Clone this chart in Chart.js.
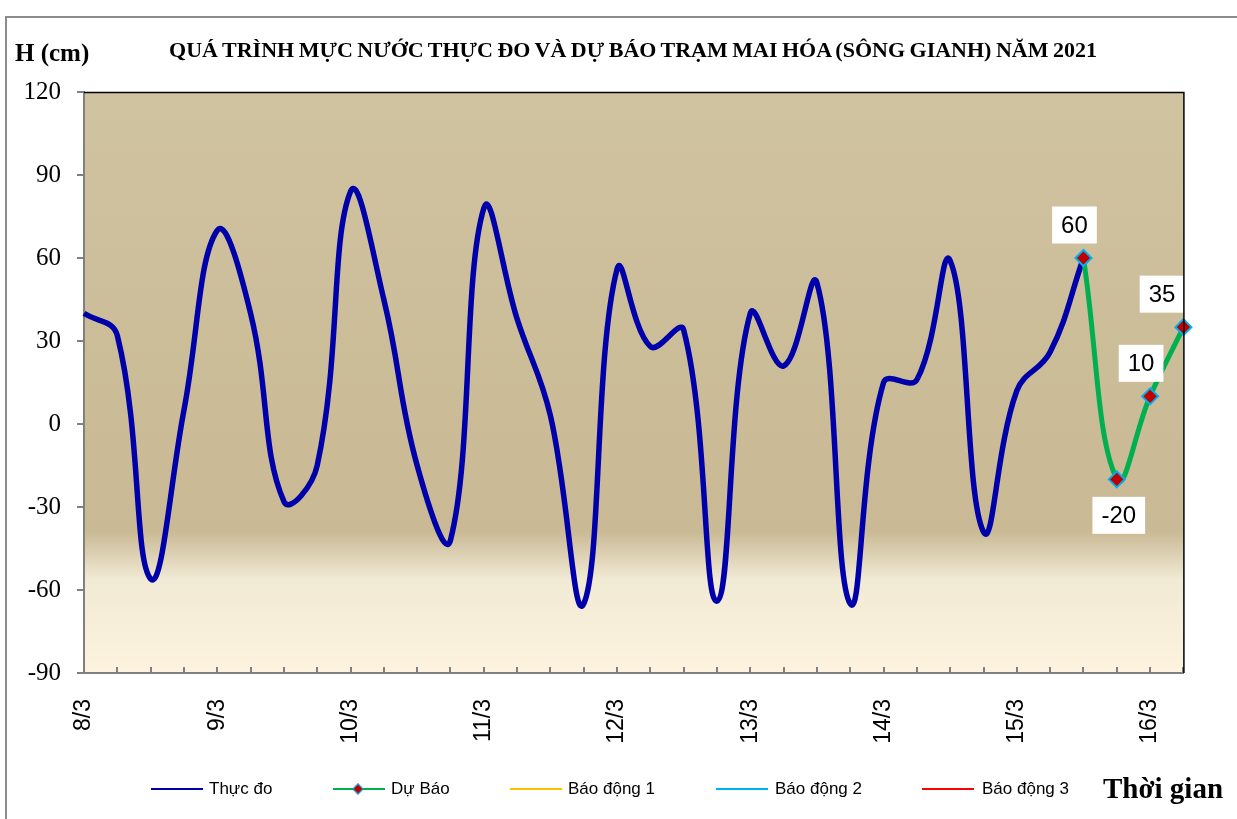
<!DOCTYPE html>
<html><head><meta charset="utf-8">
<script src="https://cdn.jsdelivr.net/npm/chart.js@4.4.1/dist/chart.umd.min.js"></script>
<style>
html,body{margin:0;padding:0;background:#fff;}
#wrap{position:relative;width:1237px;height:819px;overflow:hidden;background:#fff;}
#c{position:absolute;left:0;top:0;}
.frame{position:absolute;left:5px;top:16px;width:1300px;height:900px;border-left:2px solid #8c8c8c;border-top:2px solid #8c8c8c;}
.t{position:absolute;white-space:nowrap;font-family:'Liberation Serif','Times New Roman',serif;font-weight:bold;color:#000;line-height:1;}
#title{left:0;width:1266px;text-align:center;top:39px;font-size:22px;word-spacing:-1px;}
#hcm{left:15px;top:40px;font-size:25px;}
#tg{left:1103px;top:774px;font-size:29px;}
.lg{position:absolute;top:789px;height:0;}
.lg .ln{position:absolute;top:-1px;width:52px;height:2px;}
.lg .tx{position:absolute;top:-10px;font-family:'Liberation Sans',Arial,sans-serif;font-size:17px;line-height:20px;color:#000;white-space:nowrap;}
.lg .dm{position:absolute;top:-4px;width:6px;height:6px;background:#C00000;border:1.5px solid #00B0F0;transform:rotate(45deg);}
</style></head>
<body>
<div id="wrap">
<div class="frame"></div>
<canvas id="c" width="1237" height="819"></canvas>
<div class="t" id="title">QUÁ TRÌNH MỰC NƯỚC THỰC ĐO VÀ DỰ BÁO TRẠM MAI HÓA (SÔNG GIANH) NĂM 2021</div>
<div class="t" id="hcm">H (cm)</div>
<div class="t" id="tg">Thời gian</div>
<div class="lg" style="left:151px"><div class="ln" style="left:0;background:#0000AA"></div><div class="tx" style="left:58px">Thực đo</div></div>
<div class="lg" style="left:333px"><div class="ln" style="left:0;background:#00B050"></div><div class="dm" style="left:21px"></div><div class="tx" style="left:58px">Dự Báo</div></div>
<div class="lg" style="left:510px"><div class="ln" style="left:0;background:#FFC000"></div><div class="tx" style="left:58px">Báo động 1</div></div>
<div class="lg" style="left:716px"><div class="ln" style="left:0;background:#00B0F0"></div><div class="tx" style="left:59px">Báo động 2</div></div>
<div class="lg" style="left:922px"><div class="ln" style="left:0;background:#FF0000"></div><div class="tx" style="left:60px">Báo động 3</div></div>
</div>
<script>
// ---- data ----
const categories = [
 '8/3 00h','8/3 06h','8/3 12h','8/3 18h',
 '9/3 00h','9/3 06h','9/3 12h','9/3 18h',
 '10/3 00h','10/3 06h','10/3 12h','10/3 18h',
 '11/3 00h','11/3 06h','11/3 12h','11/3 18h',
 '12/3 00h','12/3 06h','12/3 12h','12/3 18h',
 '13/3 00h','13/3 06h','13/3 12h','13/3 18h',
 '14/3 00h','14/3 06h','14/3 12h','14/3 18h',
 '15/3 00h','15/3 06h','15/3 12h','15/3 18h',
 '16/3 00h','16/3 06h'
];
const dayLabels = ['8/3','9/3','10/3','11/3','12/3','13/3','14/3','15/3','16/3'];
const thucDo = [
 40, 32, -56, 5,
 70, 40, -28, -15,
 84, 45, -15, -42,
 78, 38, 3, -65,
 56, 28, 34, -64,
 40, 21, 51, -65,
 15, 16, 59, -39,
 12, 26, 60, null,
 null, null
];
const duBao = [
 null,null,null,null, null,null,null,null, null,null,null,null,
 null,null,null,null, null,null,null,null, null,null,null,null,
 null,null,null,null, null,null,60,-20, 10,35
];
const baoDong1 = [];
const baoDong2 = [];
const baoDong3 = [];
const yTicks = {min:-90, max:120, step:30};

// ---- plugins ----
const plotDeco = {
  id:'plotDeco',
  beforeDraw(chart){
    const {ctx, chartArea:a} = chart;
    const g = ctx.createLinearGradient(0,a.top,0,a.bottom);
    g.addColorStop(0,'#D0C3A0');
    g.addColorStop(0.755,'#C9B994');
    g.addColorStop(0.84,'#F1EAD5');
    g.addColorStop(1,'#FDF3DF');
    ctx.save(); ctx.fillStyle=g; ctx.fillRect(a.left,a.top,a.right-a.left,a.bottom-a.top); ctx.restore();
  },
  afterDraw(chart){
    const {ctx, chartArea:a} = chart;
    const xs = chart.scales.x;
    ctx.save();
    ctx.strokeStyle='#808080'; ctx.lineWidth=2;
    for(let i=1;i<xs.ticks.length;i++){
      const x=Math.round(xs.getPixelForTick(i));
      ctx.beginPath(); ctx.moveTo(x,a.bottom); ctx.lineTo(x,a.bottom-6); ctx.stroke();
    }
    ctx.strokeStyle='#000'; ctx.lineWidth=1.5;
    ctx.beginPath(); ctx.moveTo(a.left,a.top+0.5); ctx.lineTo(a.right+0.5,a.top+0.5); ctx.lineTo(a.right+0.5,a.bottom); ctx.stroke();
    ctx.restore();
  }
};
const valueLabels = {
  id:'valueLabels',
  afterDatasetsDraw(chart){
    const {ctx, chartArea:a} = chart;
    const meta = chart.getDatasetMeta(1);
    const data = chart.data.datasets[1].data;
    ctx.save();
    ctx.font = '24px "Liberation Sans", Arial, sans-serif';
    ctx.textAlign='center'; ctx.textBaseline='middle';
    meta.data.forEach((pt,i)=>{
      const v = data[i]; if(v==null) return;
      const prev = data[i-1], next = data[i+1];
      const below = prev!=null && next!=null && v<prev && v<next;
      const txt = String(v);
      const w = ctx.measureText(txt).width + 18, h = 37;
      let cx = pt.x + (below ? 2 : -9);
      let cy = pt.y + (below ? 36 : -33);
      if (cx + w/2 > a.right+1) cx = a.right + 1 - w/2;
      ctx.fillStyle='#fff'; ctx.fillRect(cx-w/2, cy-h/2, w, h);
      ctx.fillStyle='#000'; ctx.fillText(txt, cx, cy+1);
    });
    ctx.restore();
  }
};

new Chart(document.getElementById('c'), {
  type:'line',
  data:{
    labels:categories,
    datasets:[
      {label:'Thực đo', data:thucDo, borderColor:'#0000AA', borderWidth:5.5, pointRadius:0, tension:0.42, order:1, spanGaps:false},
      {label:'Dự Báo', data:duBao, borderColor:'#00B050', borderWidth:5, pointStyle:'rectRot', pointRadius:8, pointHoverRadius:8,
        pointBackgroundColor:'#C00000', pointBorderColor:'#00B0F0', pointBorderWidth:2, tension:0.42, order:0, clip:false},
      {label:'Báo động 1', data:baoDong1, borderColor:'#FFC000', borderWidth:2, pointRadius:0},
      {label:'Báo động 2', data:baoDong2, borderColor:'#00B0F0', borderWidth:2, pointRadius:0},
      {label:'Báo động 3', data:baoDong3, borderColor:'#FF0000', borderWidth:2, pointRadius:0}
    ]
  },
  options:{
    responsive:false, animation:false, devicePixelRatio:1,
    layout:{padding:{left:0, top:92, right:49, bottom:0}},
    plugins:{legend:{display:false}, title:{display:false}, tooltip:{enabled:false}},
    scales:{
      x:{
        type:'category',
        grid:{drawOnChartArea:false, drawTicks:false},
        border:{display:true, color:'#808080', width:2},
        ticks:{autoSkip:false, maxRotation:90, minRotation:90, padding:26, color:'#000',
          font:{family:'"Liberation Sans", Arial, sans-serif', size:23},
          callback:(v,i)=> i%4===0 ? dayLabels[i/4] : ''},
        afterFit:(s)=>{ s.height = 146; }
      },
      y:{
        min:yTicks.min, max:yTicks.max,
        grid:{drawOnChartArea:false, tickLength:7, color:'#808080', lineWidth:2},
        border:{display:true, color:'#808080', width:2},
        ticks:{stepSize:yTicks.step, padding:16, color:'#000',
          font:{family:'"Liberation Serif", "Times New Roman", serif', size:25}},
        afterFit:(s)=>{ s.width = 84; }
      }
    }
  },
  plugins:[plotDeco, valueLabels]
});
</script>
</body></html>
